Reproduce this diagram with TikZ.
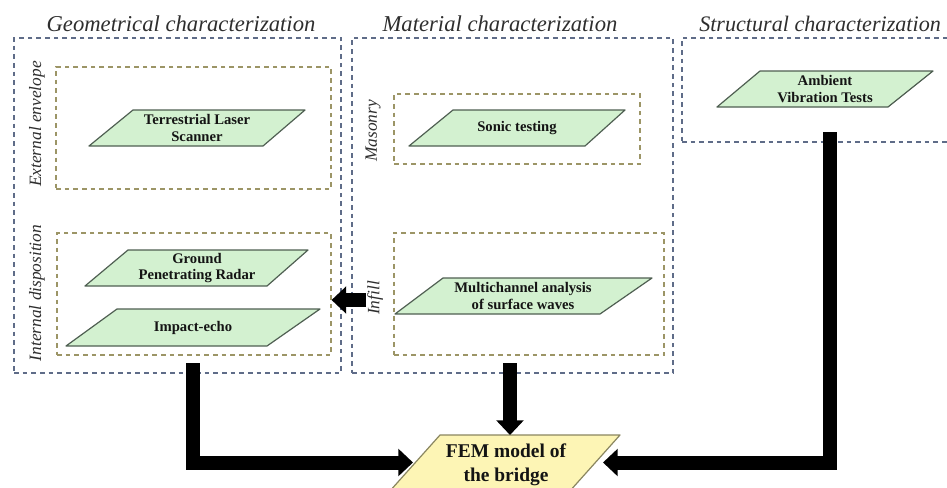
\documentclass[tikz,border=0pt]{standalone}
\usepackage{fontspec}
\setmainfont{Liberation Serif}
\usetikzlibrary{arrows.meta,fit}
\definecolor{outerdash}{HTML}{5F6C88}
\definecolor{innerdash}{HTML}{9C9566}
\definecolor{grfill}{HTML}{D3F1D0}
\definecolor{grline}{HTML}{4F5F52}
\definecolor{femfill}{HTML}{FDF5B5}
\definecolor{femline}{HTML}{8A8660}
\begin{document}
\begin{tikzpicture}[x=0.75pt,y=-0.75pt,
  outerbox/.style={draw=outerdash, dash pattern=on 3.5pt off 3pt, line width=0.85pt, inner sep=0pt},
  innerbox/.style={draw=innerdash, dash pattern=on 3.5pt off 3pt, line width=0.85pt, inner sep=0pt},
  paraface/.style={fill=grfill, draw=grline, line width=0.9pt, line join=round},
  femface/.style={fill=femfill, draw=femline, line width=0.9pt, line join=round},
  paratext/.style={font=\fontsize{11}{12.5}\selectfont\bfseries, align=center, text=black!92, inner sep=0pt},
  femtext/.style={font=\fontsize{14.6}{18}\selectfont\bfseries, align=center, text=black!92, inner sep=0pt},
  titletext/.style={font=\fontsize{17}{20}\selectfont\itshape, anchor=base, text=black!82, inner sep=0pt},
  sidelabel/.style={font=\fontsize{13}{15}\selectfont\itshape, rotate=90, text=black!82, inner sep=0pt},
  bigarrow/.style={line width=10.5pt, line join=miter, -{Triangle[length=11pt,width=20pt]}}
]
\useasboundingbox (0,0) rectangle (947,487);
\clip (0,0) rectangle (947,487);

% titles
\node[titletext] (tgeo) at (181,31) {Geometrical characterization};
\node[titletext] (tmat) at (500,31) {Material characterization};
\node[titletext, anchor=base west, font=\fontsize{16.6}{20}\selectfont\itshape] (tstr) at (699,31) {Structural characterization};

% outer boxes
\node[outerbox, fit={(14,38) (341,373)}] (geo) {};
\node[outerbox, fit={(352,38) (673,373)}] (mat) {};
\node[outerbox, fit={(682,38) (975,142)}] (str) {};

% inner boxes
\node[innerbox, fit={(56,67) (331,189)}] (ext) {};
\node[innerbox, fit={(57,233) (331,355)}] (int) {};
\node[innerbox, fit={(394,94) (640,164)}] (mas) {};
\node[innerbox, fit={(394,233) (664,355)}] (inf) {};

% side labels
\node[sidelabel] (lext) at (37,124) {External envelope};
\node[sidelabel] (lint) at (37,293) {Internal disposition};
\node[sidelabel] (lmas) at (373,131) {Masonry};
\node[sidelabel] (linf) at (375,298) {Infill};

% parallelograms
\path[paraface] (89,146) -- (133,110) -- (305,110) -- (263,146) -- cycle;
\node[paratext] (tls) at (197,128) {Terrestrial Laser\\Scanner};

\path[paraface] (409,146) -- (453,110) -- (625,110) -- (585,146) -- cycle;
\node[paratext] (sonic) at (517,128) {Sonic testing};

\path[paraface] (717,107) -- (760,71) -- (933,71) -- (888,107) -- cycle;
\node[paratext] (avt) at (825,89) {Ambient\\Vibration Tests};

\path[paraface] (85,286) -- (128,250) -- (308,250) -- (267,286) -- cycle;
\node[paratext] (gpr) at (197,268) {Ground\\Penetrating Radar};

\path[paraface] (66,346) -- (117,309) -- (320,309) -- (267,346) -- cycle;
\node[paratext] (ie) at (193,328) {Impact-echo};

\path[paraface] (395,314) -- (443,278) -- (652,278) -- (600,314) -- cycle;
\node[paratext] (masw) at (523,296) {Multichannel analysis\\of surface waves};

% FEM
\path[femface] (389,492) -- (440,435) -- (620,435) -- (569,492) -- cycle;
\node[femtext] (fem) at (506,465) {FEM model of\\the bridge};

% connector end points
\coordinate (a1) at (366,300);
\coordinate (g0) at (192.5,363);
\coordinate (femL) at (413,462.5);
\coordinate (m0) at (510,363);
\coordinate (femT) at (510,435);
\coordinate (s0) at (830,132);
\coordinate (femR) at (603,462.5);

% arrows
\draw[bigarrow] (a1) -- (a1 -| int.east);
\draw[bigarrow] (g0) -- (g0 |- femL) -- (femL);
\draw[bigarrow] (m0) -- (femT);
\draw[bigarrow] (s0) -- (s0 |- femR) -- (femR);
\end{tikzpicture}
\end{document}
